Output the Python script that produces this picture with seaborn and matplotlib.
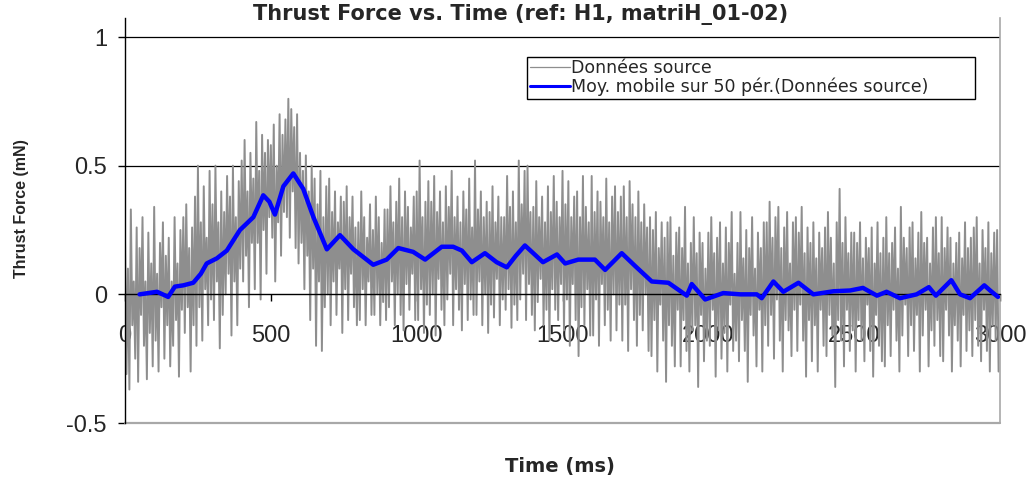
import numpy as np
import pandas as pd
import matplotlib
matplotlib.use("Agg")
import matplotlib.pyplot as plt
import seaborn as sns

# --- data -------------------------------------------------------------
# raw thrust samples, one every 5 ms from 0 to 2995 ms
raw_time = np.arange(0, 3000, 5)
raw_force = [
    0.22, -0.31, 0.10, -0.37, 0.33, -0.12, 0.05, -0.25, 0.26, -0.34,
    0.18, -0.08, 0.30, -0.20, 0.05, -0.33, 0.24, -0.15, 0.12, -0.28,
    0.34, -0.18, 0.08, -0.30, 0.20, -0.05, 0.28, -0.25, 0.15, -0.12,
    0.22, -0.28, 0.05, -0.20, 0.30, -0.10, 0.12, -0.32, 0.25, -0.06,
    0.30, -0.15, 0.35, -0.05, 0.18, -0.30, 0.26, -0.12, 0.38, -0.20,
    0.50, -0.05, 0.28, -0.18, 0.42, 0.02, 0.22, -0.12, 0.48, -0.02,
    0.35, -0.10, 0.50, 0.05, 0.28, -0.21, 0.40, -0.08, 0.32, 0.00,
    0.46, 0.08, 0.38, -0.16, 0.50, 0.05, 0.30, -0.12, 0.44, 0.10,
    0.52, 0.05, 0.60, 0.15, 0.40, -0.05, 0.55, 0.20, 0.45, 0.02,
    0.67, 0.20, 0.48, -0.02, 0.62, 0.25, 0.55, 0.08, 0.60, 0.30,
    0.58, 0.22, 0.66, 0.05, 0.50, 0.28, 0.70, 0.15, 0.62, 0.32,
    0.68, 0.30, 0.76, 0.22, 0.72, 0.40, 0.65, 0.18, 0.70, 0.12,
    0.55, 0.20, 0.48, 0.02, 0.54, 0.15, 0.40, -0.10, 0.50, 0.10,
    0.45, -0.20, 0.35, 0.05, 0.48, -0.22, 0.30, -0.05, 0.42, 0.00,
    0.45, -0.12, 0.32, 0.05, 0.40, -0.08, 0.28, 0.10, 0.38, -0.15,
    0.36, 0.02, 0.42, -0.10, 0.30, 0.08, 0.38, -0.05, 0.26, -0.12,
    0.28, -0.10, 0.40, 0.02, 0.30, -0.12, 0.22, 0.05, 0.35, -0.08,
    0.25, -0.08, 0.38, 0.00, 0.30, -0.12, 0.20, -0.03, 0.33, -0.10,
    0.33, -0.05, 0.42, 0.05, 0.28, -0.12, 0.36, 0.00, 0.45, -0.08,
    0.30, -0.14, 0.40, 0.04, 0.34, -0.06, 0.26, 0.08, 0.38, -0.10,
    0.40, -0.10, 0.52, 0.02, 0.30, -0.15, 0.36, -0.04, 0.44, -0.08,
    0.36, 0.00, 0.46, -0.16, 0.32, 0.06, 0.40, -0.06, 0.28, -0.12,
    0.42, -0.02, 0.34, 0.08, 0.48, -0.12, 0.30, 0.02, 0.38, -0.06,
    0.28, -0.14, 0.40, 0.04, 0.33, -0.10, 0.45, -0.02, 0.26, -0.08,
    0.52, -0.08, 0.33, 0.05, 0.40, -0.12, 0.30, 0.00, 0.36, -0.15,
    0.32, -0.04, 0.42, -0.09, 0.28, 0.06, 0.38, -0.12, 0.30, -0.02,
    0.30, -0.06, 0.46, 0.02, 0.34, -0.13, 0.40, -0.04, 0.28, -0.10,
    0.52, -0.02, 0.35, 0.08, 0.48, -0.10, 0.50, 0.04, 0.32, -0.08,
    0.34, -0.14, 0.44, -0.03, 0.30, 0.06, 0.38, -0.12, 0.28, -0.06,
    0.42, -0.18, 0.32, 0.02, 0.46, -0.06, 0.36, -0.10, 0.30, 0.04,
    0.48, -0.14, 0.35, -0.02, 0.44, -0.20, 0.30, 0.04, 0.38, -0.10,
    0.40, -0.24, 0.30, -0.05, 0.46, -0.12, 0.34, 0.02, 0.28, -0.16,
    0.46, -0.16, 0.32, -0.02, 0.40, -0.20, 0.36, 0.04, 0.30, -0.12,
    0.45, -0.06, 0.28, -0.18, 0.38, 0.00, 0.42, -0.14, 0.32, -0.04,
    0.38, -0.18, 0.42, -0.04, 0.30, -0.22, 0.44, 0.02, 0.35, -0.10,
    0.30, -0.20, 0.40, -0.08, 0.28, -0.14, 0.35, 0.00, 0.26, -0.22,
    0.30, -0.24, 0.25, -0.10, 0.32, -0.30, 0.18, -0.04, 0.28, -0.18,
    0.22, -0.34, 0.28, -0.12, 0.30, -0.20, 0.15, -0.28, 0.24, -0.06,
    0.26, -0.28, 0.18, -0.10, 0.34, -0.22, 0.12, -0.30, 0.20, -0.14,
    0.30, -0.12, 0.16, -0.36, 0.24, -0.08, 0.20, -0.26, 0.10, -0.18,
    0.24, -0.20, 0.30, -0.06, 0.16, -0.32, 0.22, -0.14, 0.28, -0.25,
    0.12, -0.15, 0.26, -0.30, 0.20, -0.04, 0.32, -0.22, 0.08, -0.18,
    0.20, -0.26, 0.32, -0.10, 0.14, -0.22, 0.25, -0.34, 0.18, -0.08,
    0.30, -0.16, 0.10, -0.28, 0.24, -0.06, 0.18, -0.30, 0.28, -0.12,
    0.28, -0.20, 0.36, -0.08, 0.22, -0.25, 0.30, -0.02, 0.34, -0.18,
    0.18, -0.30, 0.26, -0.10, 0.32, -0.14, 0.12, -0.24, 0.28, -0.06,
    0.30, -0.22, 0.24, -0.04, 0.34, -0.18, 0.16, -0.32, 0.26, -0.10,
    0.20, -0.26, 0.28, -0.12, 0.14, -0.30, 0.24, -0.06, 0.18, -0.20,
    0.26, -0.24, 0.32, -0.08, 0.22, -0.16, 0.12, -0.36, 0.28, -0.10,
    0.41, -0.18, 0.20, -0.28, 0.30, -0.06, 0.16, -0.22, 0.24, -0.14,
    0.24, -0.30, 0.20, -0.10, 0.28, -0.18, 0.14, -0.26, 0.22, -0.04,
    0.18, -0.22, 0.26, -0.32, 0.12, -0.08, 0.28, -0.20, 0.16, -0.26,
    0.22, -0.28, 0.30, -0.12, 0.16, -0.24, 0.20, -0.06, 0.26, -0.18,
    0.10, -0.30, 0.34, -0.16, 0.22, -0.04, 0.18, -0.24, 0.26, -0.12,
    0.28, -0.22, 0.14, -0.08, 0.24, -0.30, 0.32, -0.16, 0.20, -0.06,
    0.22, -0.28, 0.12, -0.14, 0.26, -0.20, 0.30, -0.10, 0.16, -0.24,
    0.30, -0.26, 0.18, -0.06, 0.26, -0.16, 0.22, -0.30, 0.12, -0.12,
    0.20, -0.18, 0.24, -0.28, 0.14, -0.08, 0.28, -0.22, 0.18, -0.14,
    0.22, -0.24, 0.26, -0.10, 0.30, -0.20, 0.12, -0.26, 0.25, -0.06,
    0.18, -0.22, 0.28, -0.30, 0.16, -0.12, 0.24, -0.18, 0.25, -0.30,
]

# 50-period moving average of the raw samples
avg_time = [
    50, 80, 110, 148, 171, 200, 234, 260, 280, 315, 349, 394, 440, 474, 495,
    514, 543, 577, 611, 646, 692, 737, 783, 851, 897, 937, 988, 1029, 1086,
    1125, 1155, 1189, 1234, 1274, 1309, 1340, 1371, 1433, 1481, 1509, 1554,
    1611, 1646, 1703, 1749, 1806, 1863, 1926, 1943, 1989, 2051, 2110, 2166,
    2183, 2223, 2257, 2309, 2360, 2429, 2486, 2530, 2578, 2611, 2657, 2714,
    2756, 2780, 2833, 2863, 2897, 2946, 2966, 2993,
]
avg_force = [
    0.0, 0.005, 0.01, -0.01, 0.03, 0.035, 0.045, 0.08, 0.12, 0.14, 0.17,
    0.25, 0.30, 0.385, 0.36, 0.31, 0.42, 0.47, 0.41, 0.30, 0.175, 0.23,
    0.175, 0.115, 0.135, 0.18, 0.165, 0.135, 0.185, 0.185, 0.17, 0.125,
    0.16, 0.125, 0.105, 0.15, 0.19, 0.125, 0.155, 0.12, 0.135, 0.135,
    0.095, 0.16, 0.11, 0.05, 0.045, -0.005, 0.04, -0.02, 0.005, 0.0, 0.0,
    -0.015, 0.05, 0.01, 0.045, 0.0, 0.012, 0.015, 0.025, -0.005, 0.01,
    -0.015, 0.0, 0.028, -0.005, 0.055, 0.0, -0.015, 0.035, 0.015, -0.01,
]

x_ticks = [0, 500, 1000, 1500, 2000, 2500, 3000]
x_tick_labels = ["0", "500", "1000", "1500", "2000", "2500", "3000"]
y_ticks = [-0.5, 0, 0.5, 1]
y_tick_labels = ["-0.5", "0", "0.5", "1"]

raw_label = "Données source"
avg_label = "Moy. mobile sur 50 pér.(Données source)"
title = "Thrust Force vs. Time (ref: H1, matriH_01-02)"
x_title = "Time (ms)"
y_title = "Thrust Force (mN)"

# --- figure -----------------------------------------------------------
sns.set_style("white")
plt.rcParams["font.family"] = ["DejaVu Sans"]

fig = plt.figure(figsize=(10.28, 4.8), dpi=100)
ax = fig.add_axes([0.1216, 0.11875, 0.8512, 0.84375])

raw_df = pd.DataFrame({"t": raw_time, "f": raw_force})
avg_df = pd.DataFrame({"t": avg_time, "f": avg_force})

sns.lineplot(data=raw_df, x="t", y="f", ax=ax, color="#8e8e8e",
             linewidth=1.4, estimator=None, sort=False, label=raw_label,
             zorder=2)
sns.lineplot(data=avg_df, x="t", y="f", ax=ax, color="#0000ff",
             linewidth=3.2, estimator=None, sort=False, label=avg_label,
             zorder=4)

ax.set_xlim(0, 3000)
ax.set_ylim(-0.5, 1.074)
ax.set_axisbelow(True)

# horizontal gridlines above zero
for yv in y_ticks:
    if yv > 0:
        ax.axhline(yv, color="black", linewidth=0.9, zorder=1)

# x axis runs through zero; grey plot-area border on the right and bottom
ax.spines["bottom"].set_position(("data", 0))
ax.spines["bottom"].set_color("black")
ax.spines["bottom"].set_linewidth(1.0)
ax.spines["bottom"].set_zorder(3)
ax.spines["top"].set_visible(False)
ax.spines["left"].set_color("black")
ax.spines["left"].set_linewidth(1.0)
ax.spines["left"].set_zorder(3)
ax.spines["right"].set_color("#a8a8a8")
ax.spines["right"].set_linewidth(1.2)
ax.axhline(-0.5, color="#a8a8a8", linewidth=1.6, zorder=3, clip_on=False)

tick_font = dict(family=["Liberation Sans Narrow", "Liberation Sans"], size=17)
ax.set_xticks(x_ticks)
ax.set_xticklabels(x_tick_labels, fontdict=tick_font)
ax.set_yticks(y_ticks)
ax.set_yticklabels(y_tick_labels, fontdict=tick_font)
ax.tick_params(axis="y", direction="out", length=5, width=1, color="black",
               pad=8, left=True)
ax.tick_params(axis="x", direction="out", length=5, width=1, color="black",
               pad=17, bottom=True)

ax.set_xlabel("")
ax.set_ylabel("")

leg = ax.legend(loc="upper left", bbox_to_anchor=(0.4594, 0.81, 0.512, 0.094),
                mode="expand", borderaxespad=0, frameon=True, fancybox=False,
                edgecolor="black", framealpha=1, fontsize=12.5,
                handlelength=2.3, handletextpad=0.1, labelspacing=0.0,
                borderpad=0.15)
leg.get_frame().set_linewidth(1.0)
leg.get_lines()[0].set_linewidth(0.9)
leg.get_lines()[1].set_linewidth(2.2)

fig.text(0.506, 0.969, title, ha="center", va="center",
         fontsize=15, fontweight="bold", family="DejaVu Sans")
fig.text(0.545, 0.029, x_title, ha="center", va="center",
         fontsize=14, fontweight="bold", family="DejaVu Sans")
fig.text(0.0214, 0.565, y_title, ha="center", va="center", rotation=90,
         fontsize=11.5, fontweight="bold",
         family=["Liberation Sans Narrow", "Liberation Sans"])

fig.savefig("out.png", dpi=100)
